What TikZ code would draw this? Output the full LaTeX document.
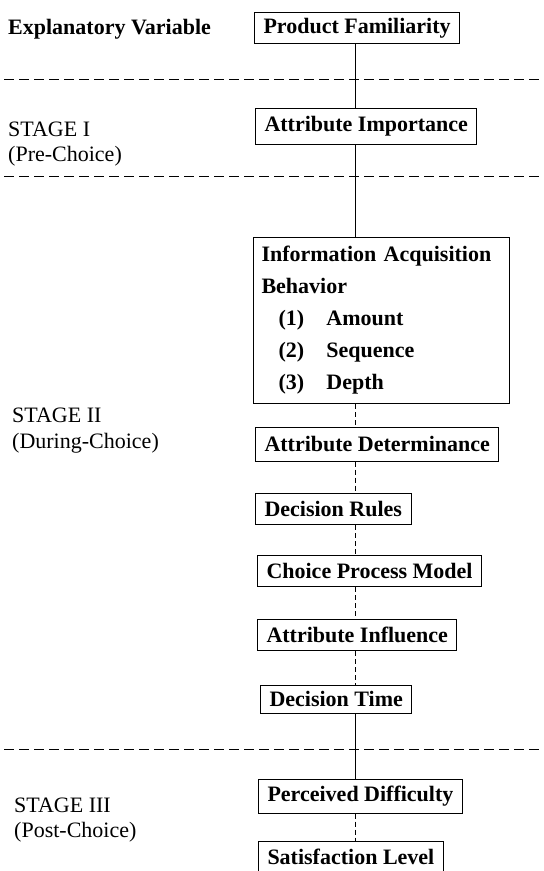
\documentclass[tikz,border=0pt]{standalone}
\usepackage{fontspec}
\setmainfont{Liberation Serif}

\begin{document}
\begin{tikzpicture}[
    x=1pt, y=-1pt,
    every node/.style={
      font=\fontsize{22}{26}\selectfont\bfseries,
    },
    box/.style={
      draw, line width=1pt, anchor=west,
      inner xsep=9pt, minimum height=31pt
    },
    stage/.style={anchor=west, inner sep=0pt,
      font=\fontsize{22}{26}\selectfont},
    link/.style={line width=1pt},
    weak/.style={line width=0.8pt, dash pattern=on 5pt off 3pt},
    sep/.style={line width=0.9pt, dash pattern=on 10pt off 5pt}
    ]
  \useasboundingbox (0,0) rectangle (544,871);
  \coordinate (spine) at (355,0);

  % left column
  \node[anchor=west, inner sep=0pt] (expl) at (8,29) {Explanatory Variable};
  \node[stage] (s1) at (8,129) {STAGE I};
  \node[stage] (s1b) at (8,156) {(Pre-Choice)};
  \node[stage] (s2) at (12,415) {STAGE II};
  \node[stage] (s2b) at (12,443) {(During-Choice)};
  \node[stage] (s3) at (14,805) {STAGE III};
  \node[stage] (s3b) at (14,832) {(Post-Choice)};

  \foreach \y in {79,176,749}
    \draw[sep] (4,\y) -- (544,\y);

  % boxes
  \node[box] (pf) at (254,28) {Product Familiarity};
  \node[box, minimum height=36pt] (ai) at (255,126) {Attribute Importance};
  \node[draw, line width=1pt, anchor=north west, align=left,
        text width=240pt, inner xsep=8pt, inner ysep=9pt,
        font=\fontsize{22}{32}\selectfont\bfseries] (iab) at (253,237)
    {Information Acquisition\\
     Behavior\\
     \hspace*{17pt}\makebox[48pt][l]{(1)}Amount\\
     \hspace*{17pt}\makebox[48pt][l]{(2)}Sequence\\
     \hspace*{17pt}\makebox[48pt][l]{(3)}Depth};
  \node[box, minimum height=34pt] (ad) at (255,444) {Attribute Determinance};
  \node[box] (dr) at (255,509) {Decision Rules};
  \node[box] (cpm) at (257,571) {Choice Process Model};
  \node[box] (ainf) at (257,635) {Attribute Influence};
  \node[box, minimum height=28pt] (dt) at (260,699) {Decision Time};
  \node[box, minimum height=34pt] (pd) at (258,796) {Perceived Difficulty};
  \node[box] (sl) at (258,857) {Satisfaction Level};

  % connectors
  \draw[link] (pf.south -| spine) -- (ai.north -| spine);
  \draw[link] (ai.south -| spine) -- (iab.north -| spine);
  \draw[weak] (iab.south -| spine) -- (ad.north -| spine);
  \draw[weak] (ad.south -| spine) -- (dr.north -| spine);
  \draw[weak] (dr.south -| spine) -- (cpm.north -| spine);
  \draw[weak] (cpm.south -| spine) -- (ainf.north -| spine);
  \draw[weak] (ainf.south -| spine) -- (dt.north -| spine);
  \draw[link] (dt.south -| spine) -- (pd.north -| spine);
  \draw[weak] (pd.south -| spine) -- (sl.north -| spine);
\end{tikzpicture}
\end{document}
